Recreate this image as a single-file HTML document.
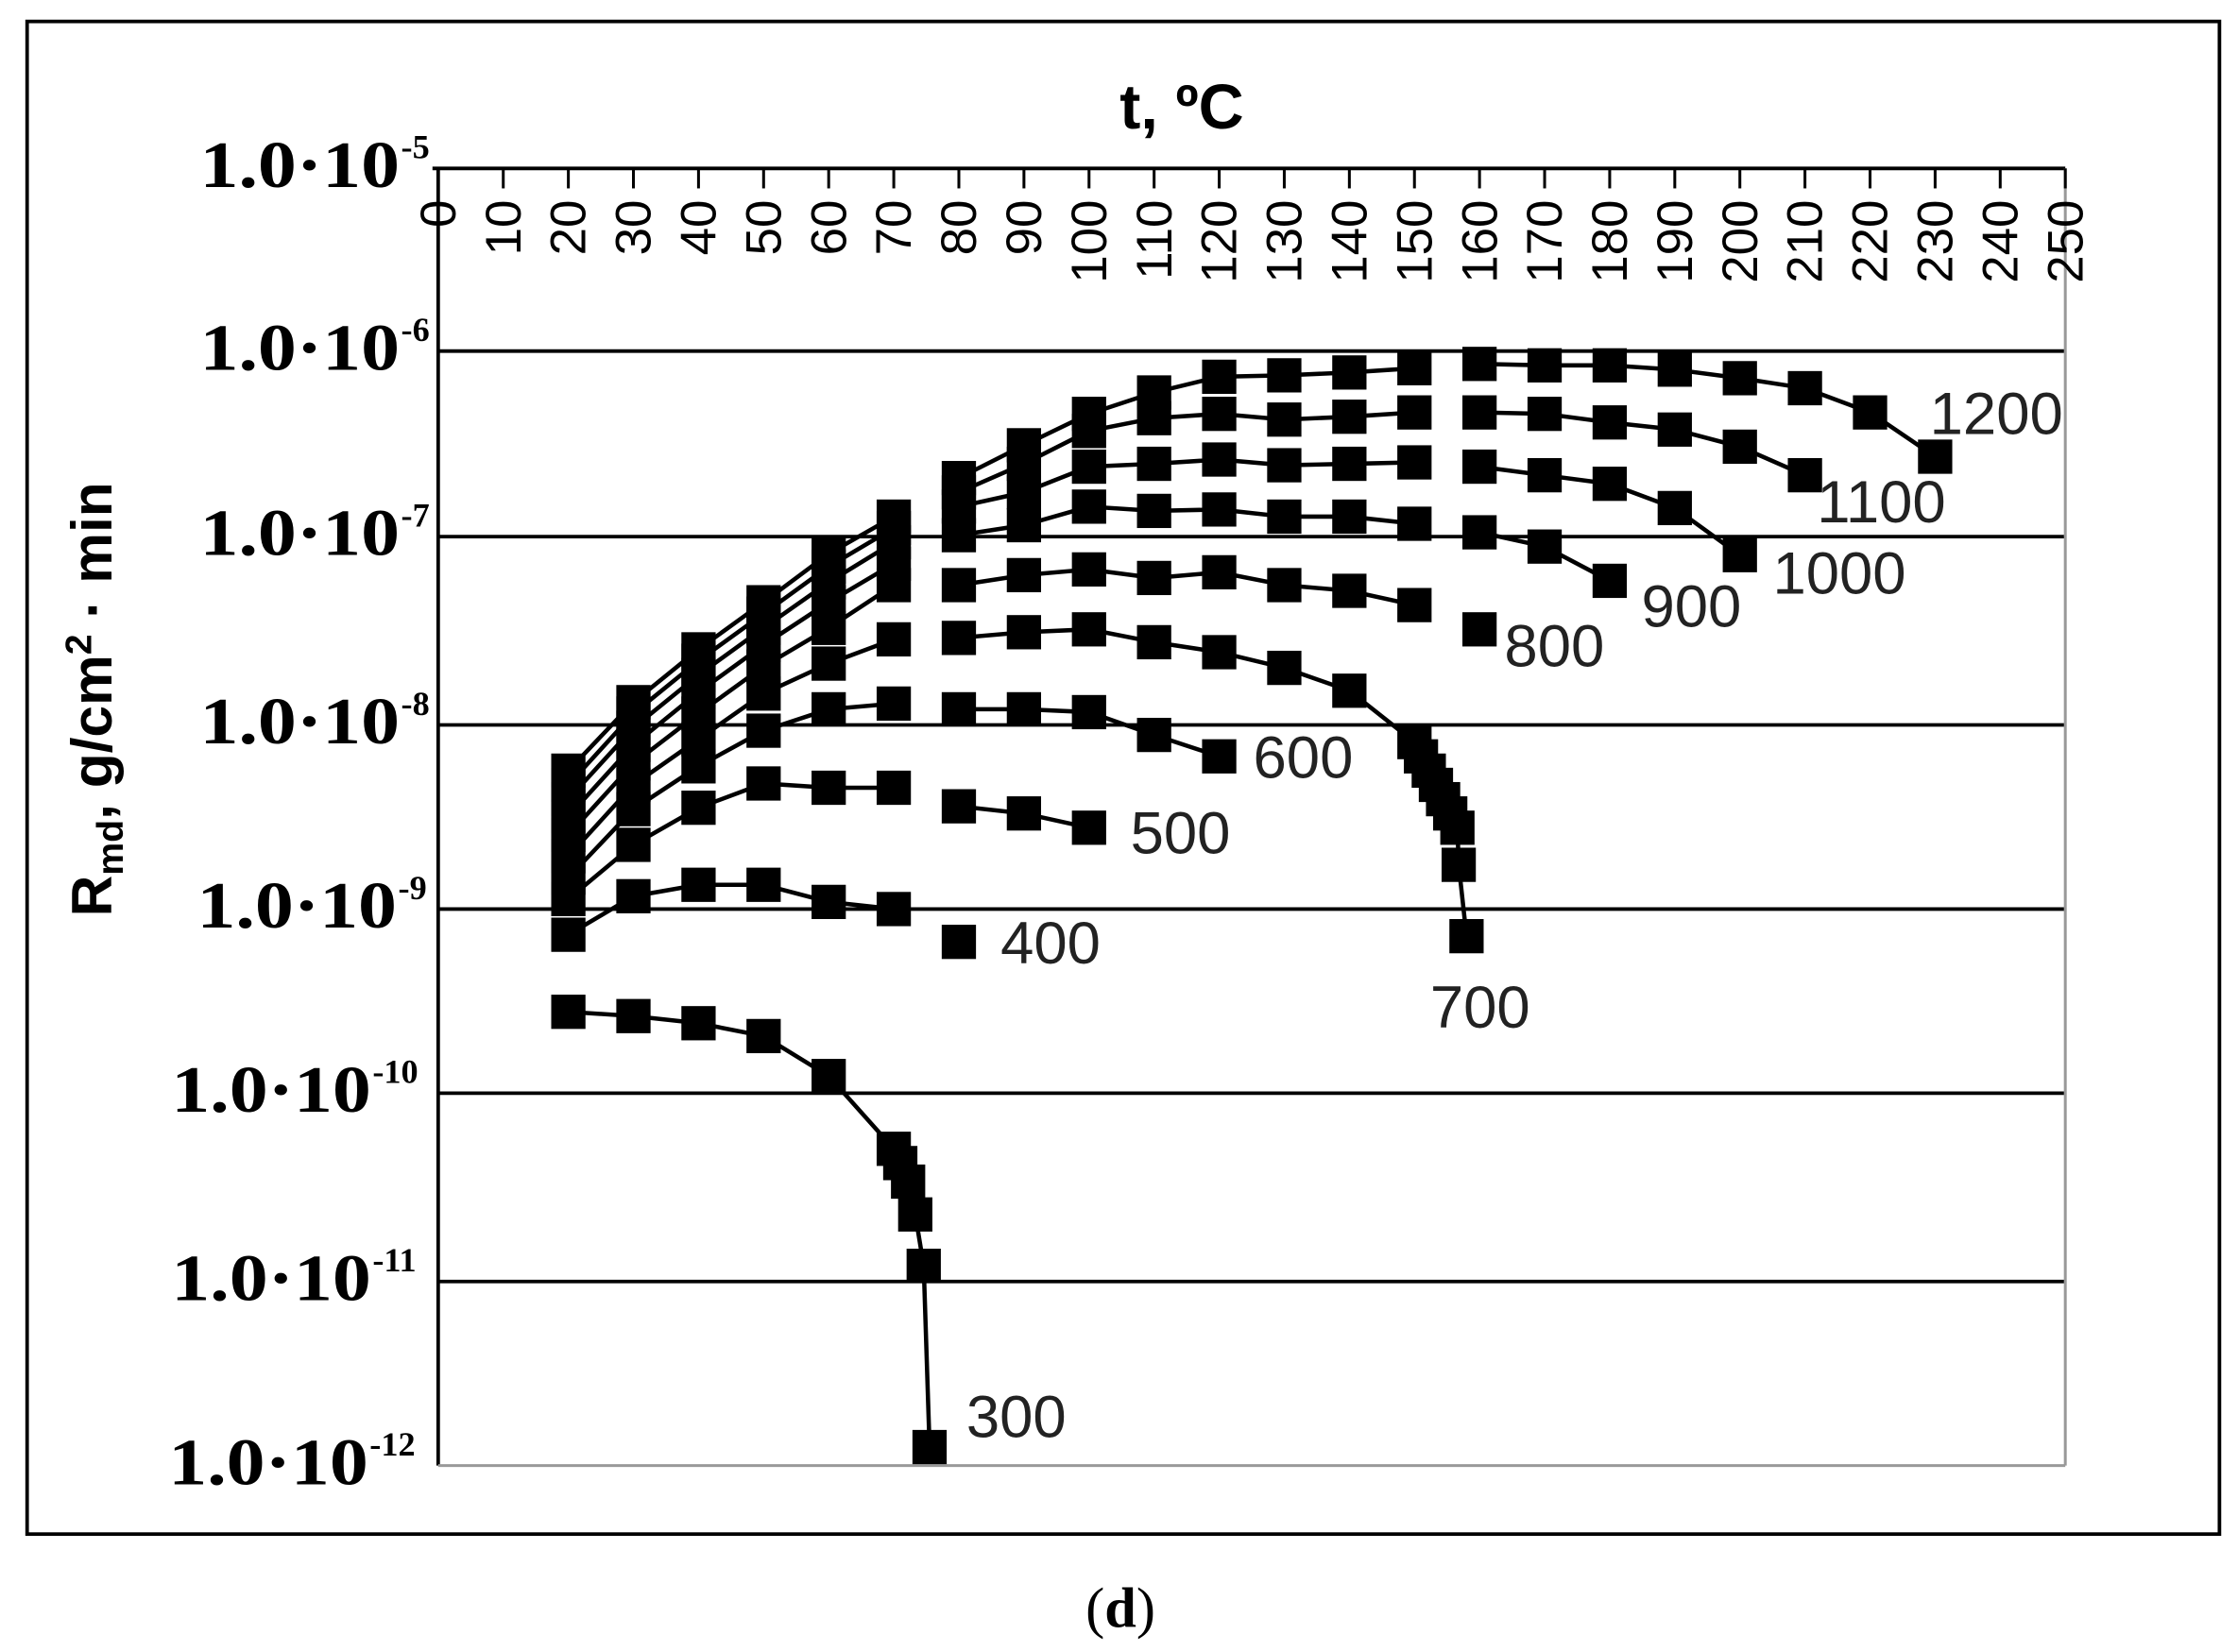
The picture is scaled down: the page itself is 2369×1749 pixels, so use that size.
<!DOCTYPE html>
<html><head><meta charset="utf-8"><style>html,body{margin:0;padding:0;background:#fff}svg{display:block}</style></head>
<body>
<svg width="2369" height="1749" viewBox="0 0 1568 1157.6" xmlns="http://www.w3.org/2000/svg">
<rect x="0" y="0" width="1568" height="1157.6" fill="#fff"/>
<rect x="19" y="15" width="1536" height="1060" fill="none" stroke="#000" stroke-width="2.5"/>
<text x="785" y="1140" font-family="Liberation Serif, serif" font-size="40" text-anchor="middle">(<tspan font-weight="bold">d</tspan>)</text>
<text x="828" y="90" font-family="Liberation Sans, sans-serif" font-size="44" font-weight="bold" text-anchor="middle">t, ºC</text>
<text transform="translate(78,490) rotate(-90)" font-family="Liberation Sans, sans-serif" font-size="40" font-weight="bold" text-anchor="middle">R<tspan font-size="26" dy="8">md</tspan><tspan dy="-8">, g/cm</tspan><tspan font-size="26" dy="-14">2</tspan><tspan dy="14"> · min</tspan></text>
<g stroke="#000" stroke-width="2.5">
<line x1="307" y1="246" x2="1447" y2="246"/><line x1="307" y1="376" x2="1447" y2="376"/>
<line x1="307" y1="508" x2="1447" y2="508"/><line x1="307" y1="637" x2="1447" y2="637"/>
<line x1="307" y1="766" x2="1447" y2="766"/><line x1="307" y1="898" x2="1447" y2="898"/>
<line x1="303" y1="118" x2="1447" y2="118"/><line x1="307" y1="118" x2="307" y2="1027"/>
</g>
<g stroke="#999" stroke-width="2"><line x1="1447" y1="118" x2="1447" y2="1027"/><line x1="307" y1="1027" x2="1447" y2="1027"/></g>
<g id="ticks" stroke="#000" stroke-width="2"></g>
<g id="xl" font-family="Liberation Sans, sans-serif" font-size="35" fill="#000"></g>
<g font-family="Liberation Serif, serif" font-weight="bold" font-size="46" fill="#000">
<text x="140" y="131" textLength="140" lengthAdjust="spacingAndGlyphs">1.0·10</text><text x="281" y="111" font-size="24">-5</text>
<text x="140" y="259" textLength="140" lengthAdjust="spacingAndGlyphs">1.0·10</text><text x="281" y="239" font-size="24">-6</text>
<text x="140" y="389" textLength="140" lengthAdjust="spacingAndGlyphs">1.0·10</text><text x="281" y="369" font-size="24">-7</text>
<text x="140" y="521" textLength="140" lengthAdjust="spacingAndGlyphs">1.0·10</text><text x="281" y="501" font-size="24">-8</text>
<text x="138" y="650" textLength="140" lengthAdjust="spacingAndGlyphs">1.0·10</text><text x="279" y="630" font-size="24">-9</text>
<text x="120" y="779" textLength="140" lengthAdjust="spacingAndGlyphs">1.0·10</text><text x="261" y="759" font-size="24">-10</text>
<text x="120" y="911" textLength="140" lengthAdjust="spacingAndGlyphs">1.0·10</text><text x="261" y="891" font-size="24">-11</text>
<text x="118" y="1040" textLength="140" lengthAdjust="spacingAndGlyphs">1.0·10</text><text x="259" y="1020" font-size="24">-12</text>
</g>
<g id="series" fill="none" stroke="#000" stroke-width="3"></g>
<g id="marks" fill="#000"></g>
<g font-family="Liberation Sans, sans-serif" font-size="42" fill="#222">
<text x="1352" y="304">1200</text><text x="1273" y="366">1100</text><text x="1242" y="416">1000</text>
<text x="1150" y="439">900</text><text x="1054" y="467">800</text><text x="878" y="545">600</text>
<text x="792" y="598">500</text><text x="701" y="675">400</text><text x="1002" y="720">700</text><text x="677" y="1007">300</text>
</g>
<script>
var ns="http://www.w3.org/2000/svg";
function X(t){return 307+t*4.56;}
var tk=document.getElementById('ticks'),xl=document.getElementById('xl');
for(var t=0;t<=250;t+=10){var l=document.createElementNS(ns,'line');l.setAttribute('x1',X(t));l.setAttribute('x2',X(t));l.setAttribute('y1',118);l.setAttribute('y2',132);tk.appendChild(l);
var tx=document.createElementNS(ns,'text');tx.setAttribute('transform','translate('+(X(t)+12)+',140) rotate(-90)');tx.setAttribute('text-anchor','end');tx.textContent=t;xl.appendChild(tx);}
var S={
1200:[[20,540],[30,492],[40,455],[50,422],[60,388],[70,362],null,[80,335],[90,312],[100,290],[110,275],[120,264],[130,263],[140,261],[150,258],null,[160,255],[170,256],[180,256],[190,259],[200,265],[210,272],[220,289],[230,320]],
1100:[[20,550],[30,500],[40,463],[50,430],[60,397],[70,370],null,[80,345],[90,325],[100,302],[110,293],[120,290],[130,294],[140,292],[150,289],null,[160,289],[170,290],[180,296],[190,301],[200,313],[210,333]],
1000:[[20,560],[30,510],[40,473],[50,440],[60,408],[70,380],null,[80,355],[90,345],[100,327],[110,325],[120,322],[130,326],[140,325],[150,324],null,[160,327],[170,333],[180,339],[190,356],[200,389]],
900:[[20,572],[30,522],[40,485],[50,452],[60,422],[70,395],null,[80,375],[90,368],[100,355],[110,358],[120,357],[130,362],[140,362],[150,367],null,[160,373],[170,383],[180,407]],
800:[[20,585],[30,535],[40,500],[50,467],[60,440],[70,410],null,[80,410],[90,403],[100,399],[110,405],[120,401],[130,410],[140,414],[150,424],null,[160,441]],
700:[[20,600],[30,550],[40,518],[50,486],[60,465],[70,448],null,[80,447],[90,443],[100,441],[110,450],[120,457],[130,468],[140,484],[150,520],[151,530],[152.2,540],[153.3,550],[154.4,560],[155.5,570],[156.6,580],[156.8,606],[158,656]],
600:[[20,615],[30,567],[40,537],[50,512],[60,497],[70,493],null,[80,497],[90,497],[100,499],[110,515],[120,530]],
500:[[20,630],[30,592],[40,566],[50,549],[60,552],[70,552],null,[80,565],[90,570],[100,580]],
400:[[20,655],[30,628],[40,620],[50,620],[60,632],[70,637],null,[80,660]],
300:[[20,709],[30,712],[40,717],[50,726],[60,754],[70,805],[71,815],[72.2,828],[73.3,851],[74.6,887],[75.5,1014]]};
var sg=document.getElementById('series'),mg=document.getElementById('marks');
for(var k in S){var d='',mv=true;S[k].forEach(function(p){if(!p){mv=true;return;}d+=(mv?'M':'L')+X(p[0])+' '+p[1]+' ';mv=false;
var r=document.createElementNS(ns,'rect');r.setAttribute('x',X(p[0])-12);r.setAttribute('y',p[1]-12);r.setAttribute('width',24);r.setAttribute('height',24);mg.appendChild(r);});
var pa=document.createElementNS(ns,'path');pa.setAttribute('d',d);sg.appendChild(pa);}
</script>
</svg>
</body></html>
